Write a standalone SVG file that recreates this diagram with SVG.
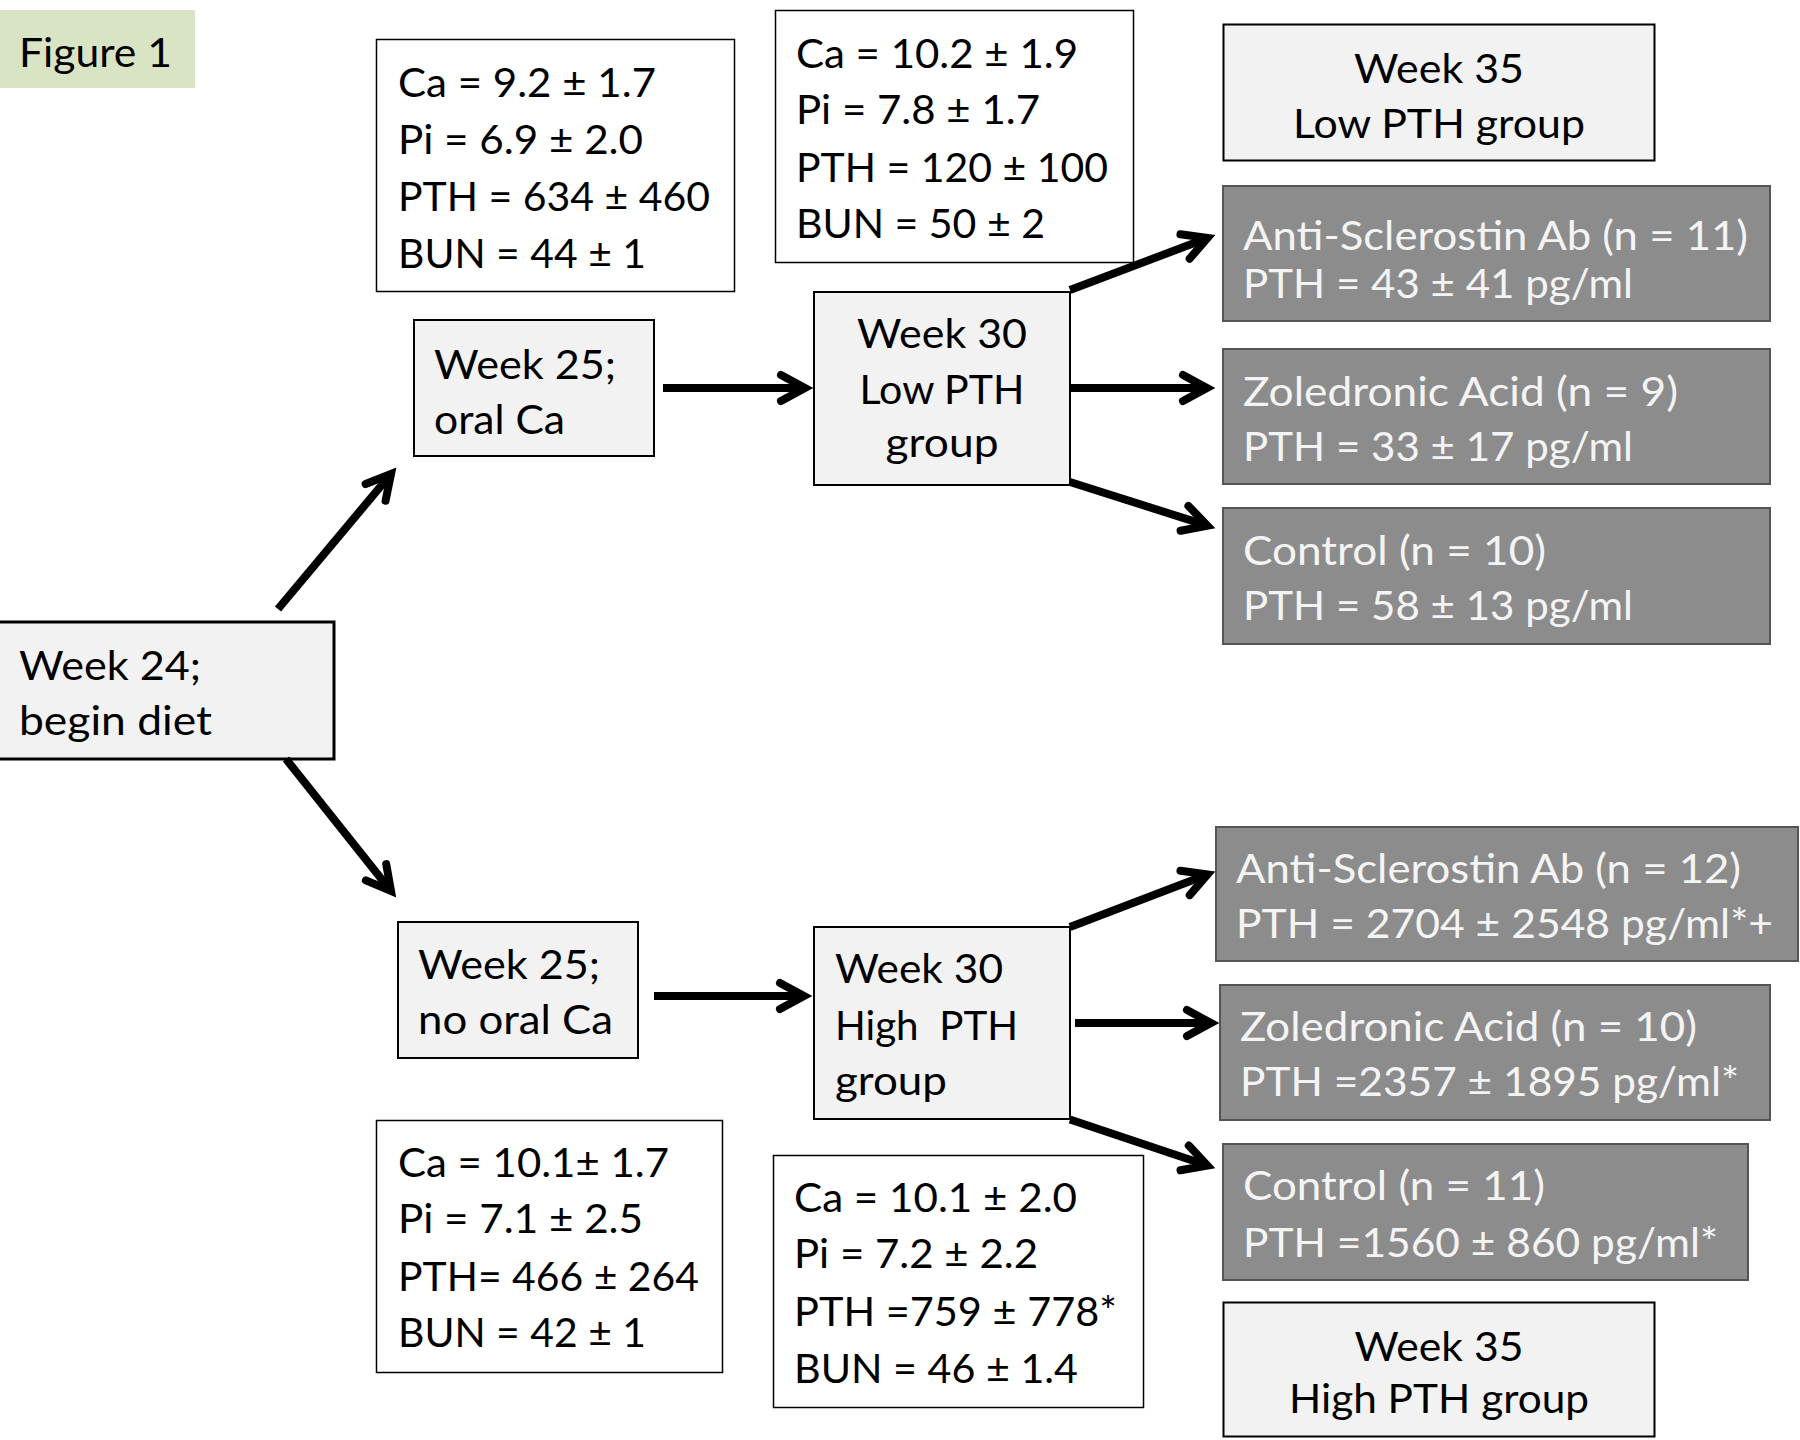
<svg xmlns="http://www.w3.org/2000/svg" width="1800" height="1440" viewBox="0 0 1800 1440">
<defs>
<style>
text{font-family:Lato,"Liberation Sans",sans-serif;font-size:41px;fill:#000}
.w{fill:#f4f4f4}
.c{text-anchor:middle}
.stat{fill:#fff;stroke:#000;stroke-width:1.5}
.light{fill:#f2f2f2;stroke:#000;stroke-width:2}
.dark{fill:#8c8c8c;stroke:#555;stroke-width:2}
.arr{stroke:#000;stroke-width:8;fill:none;marker-end:url(#ah)}
</style>
<marker id="ah" markerUnits="userSpaceOnUse" markerWidth="60" markerHeight="60" viewBox="-40 -30 60 60" refX="0" refY="0" orient="auto">
<path d="M-24,-13 L0,0 L-24,13" fill="none" stroke="#000" stroke-width="8" stroke-linecap="round" stroke-linejoin="miter" stroke-miterlimit="10"/>
</marker>
</defs>
<rect width="1800" height="1440" fill="#fff"/>

<g id="figure-label">
<rect x="0" y="10" width="195" height="78" fill="#d9e4c5"/>
<text x="19" y="67" textLength="153" lengthAdjust="spacingAndGlyphs">Figure 1</text>
</g>

<g id="stats-low-25">
<rect class="stat" x="376.5" y="39.5" width="358" height="252"/>
<text x="398" y="97" textLength="258" lengthAdjust="spacingAndGlyphs">Ca = 9.2 ± 1.7</text>
<text x="398" y="154" textLength="245" lengthAdjust="spacingAndGlyphs">Pi = 6.9 ± 2.0</text>
<text x="398" y="211" textLength="312" lengthAdjust="spacingAndGlyphs">PTH = 634 ± 460</text>
<text x="398" y="268" textLength="248" lengthAdjust="spacingAndGlyphs">BUN = 44 ± 1</text>
</g>

<g id="stats-low-30">
<rect class="stat" x="775.5" y="10.5" width="358" height="252"/>
<text x="796" y="68" textLength="282" lengthAdjust="spacingAndGlyphs">Ca = 10.2 ± 1.9</text>
<text x="796" y="124" textLength="244" lengthAdjust="spacingAndGlyphs">Pi = 7.8 ± 1.7</text>
<text x="796" y="182" textLength="312" lengthAdjust="spacingAndGlyphs">PTH = 120 ± 100</text>
<text x="796" y="238" textLength="249" lengthAdjust="spacingAndGlyphs">BUN = 50 ± 2</text>
</g>

<g id="week25-oral">
<rect class="light" x="414" y="320" width="240" height="136"/>
<text x="434" y="379" textLength="182" lengthAdjust="spacingAndGlyphs">Week 25;</text>
<text x="434" y="434" textLength="131" lengthAdjust="spacingAndGlyphs">oral Ca</text>
</g>

<g id="week24">
<rect x="-2" y="622" width="336" height="137" fill="#f2f2f2" stroke="#000" stroke-width="3"/>
<text x="19" y="680" textLength="182" lengthAdjust="spacingAndGlyphs">Week 24;</text>
<text x="19" y="735" textLength="193" lengthAdjust="spacingAndGlyphs">begin diet</text>
</g>

<g id="week30-low">
<rect class="light" x="814" y="292" width="256" height="193"/>
<text class="c" x="942" y="348" textLength="170" lengthAdjust="spacingAndGlyphs">Week 30</text>
<text class="c" x="942" y="404" textLength="165" lengthAdjust="spacingAndGlyphs">Low PTH</text>
<text class="c" x="942" y="457" textLength="113" lengthAdjust="spacingAndGlyphs">group</text>
</g>

<g id="week35-low">
<rect class="light" x="1223.5" y="24.5" width="431" height="136"/>
<text class="c" x="1439" y="83" textLength="170" lengthAdjust="spacingAndGlyphs">Week 35</text>
<text class="c" x="1439" y="138" textLength="292" lengthAdjust="spacingAndGlyphs">Low PTH group</text>
</g>

<g id="low-anti">
<rect class="dark" x="1223" y="186" width="547" height="135"/>
<text class="w" x="1243" y="250" textLength="505" lengthAdjust="spacingAndGlyphs">Anti-Sclerostin Ab (n = 11)</text>
<text class="w" x="1243" y="298" textLength="390" lengthAdjust="spacingAndGlyphs">PTH = 43 ± 41 pg/ml</text>
</g>

<g id="low-zol">
<rect class="dark" x="1223" y="349" width="547" height="135"/>
<text class="w" x="1243" y="406" textLength="435" lengthAdjust="spacingAndGlyphs">Zoledronic Acid (n = 9)</text>
<text class="w" x="1243" y="461" textLength="390" lengthAdjust="spacingAndGlyphs">PTH = 33 ± 17 pg/ml</text>
</g>

<g id="low-control">
<rect class="dark" x="1223" y="508" width="547" height="136"/>
<text class="w" x="1243" y="565" textLength="303" lengthAdjust="spacingAndGlyphs">Control (n = 10)</text>
<text class="w" x="1243" y="620" textLength="390" lengthAdjust="spacingAndGlyphs">PTH = 58 ± 13 pg/ml</text>
</g>

<g id="week25-nooral">
<rect class="light" x="398" y="922" width="240" height="136"/>
<text x="418" y="979" textLength="182" lengthAdjust="spacingAndGlyphs">Week 25;</text>
<text x="418" y="1034" textLength="195" lengthAdjust="spacingAndGlyphs">no oral Ca</text>
</g>

<g id="stats-high-25">
<rect class="stat" x="376.5" y="1120.5" width="346" height="252"/>
<text x="398" y="1177" textLength="271" lengthAdjust="spacingAndGlyphs">Ca = 10.1± 1.7</text>
<text x="398" y="1233" textLength="245" lengthAdjust="spacingAndGlyphs">Pi = 7.1 ± 2.5</text>
<text x="398" y="1291" textLength="301" lengthAdjust="spacingAndGlyphs">PTH= 466 ± 264</text>
<text x="398" y="1347" textLength="248" lengthAdjust="spacingAndGlyphs">BUN = 42 ± 1</text>
</g>

<g id="week30-high">
<rect class="light" x="814" y="927" width="256" height="192"/>
<text x="835" y="983" textLength="168" lengthAdjust="spacingAndGlyphs">Week 30</text>
<text x="835" y="1040" xml:space="preserve" textLength="183" lengthAdjust="spacingAndGlyphs">High  PTH</text>
<text x="835" y="1095" textLength="112" lengthAdjust="spacingAndGlyphs">group</text>
</g>

<g id="stats-high-30">
<rect class="stat" x="773.5" y="1155.5" width="370" height="252"/>
<text x="794" y="1212" textLength="283" lengthAdjust="spacingAndGlyphs">Ca = 10.1 ± 2.0</text>
<text x="794" y="1268" textLength="244" lengthAdjust="spacingAndGlyphs">Pi = 7.2 ± 2.2</text>
<text x="794" y="1326" textLength="323" lengthAdjust="spacingAndGlyphs">PTH =759 ± 778*</text>
<text x="794" y="1383" textLength="284" lengthAdjust="spacingAndGlyphs">BUN = 46 ± 1.4</text>
</g>

<g id="high-anti">
<rect class="dark" x="1216" y="827" width="582" height="134"/>
<text class="w" x="1236" y="883" textLength="505" lengthAdjust="spacingAndGlyphs">Anti-Sclerostin Ab (n = 12)</text>
<text class="w" x="1236" y="938" textLength="537" lengthAdjust="spacingAndGlyphs">PTH = 2704 ± 2548 pg/ml*+</text>
</g>

<g id="high-zol">
<rect class="dark" x="1220" y="985" width="550" height="135"/>
<text class="w" x="1240" y="1041" textLength="457" lengthAdjust="spacingAndGlyphs">Zoledronic Acid (n = 10)</text>
<text class="w" x="1240" y="1096" textLength="499" lengthAdjust="spacingAndGlyphs">PTH =2357 ± 1895 pg/ml*</text>
</g>

<g id="high-control">
<rect class="dark" x="1223" y="1144" width="525" height="136"/>
<text class="w" x="1243" y="1200" textLength="302" lengthAdjust="spacingAndGlyphs">Control (n = 11)</text>
<text class="w" x="1243" y="1257" textLength="475" lengthAdjust="spacingAndGlyphs">PTH =1560 ± 860 pg/ml*</text>
</g>

<g id="week35-high">
<rect class="light" x="1223.5" y="1302.5" width="431" height="134"/>
<text class="c" x="1439" y="1361" textLength="169" lengthAdjust="spacingAndGlyphs">Week 35</text>
<text class="c" x="1439" y="1413" textLength="300" lengthAdjust="spacingAndGlyphs">High PTH group</text>
</g>

<g id="connectors">
<line class="arr" x1="278" y1="609" x2="391" y2="474"/>
<line class="arr" x1="286" y1="759" x2="391" y2="891"/>
<line class="arr" x1="663" y1="388" x2="805" y2="388"/>
<line class="arr" x1="654" y1="996" x2="804" y2="996"/>
<line class="arr" x1="1070" y1="290" x2="1207.5" y2="238"/>
<line class="arr" x1="1070" y1="388" x2="1207" y2="388"/>
<line class="arr" x1="1070" y1="482" x2="1207.4" y2="525.6"/>
<line class="arr" x1="1070" y1="927" x2="1207.5" y2="874.4"/>
<line class="arr" x1="1075" y1="1023" x2="1211" y2="1023"/>
<line class="arr" x1="1070" y1="1119.5" x2="1207.4" y2="1165.5"/>
</g>
</svg>
